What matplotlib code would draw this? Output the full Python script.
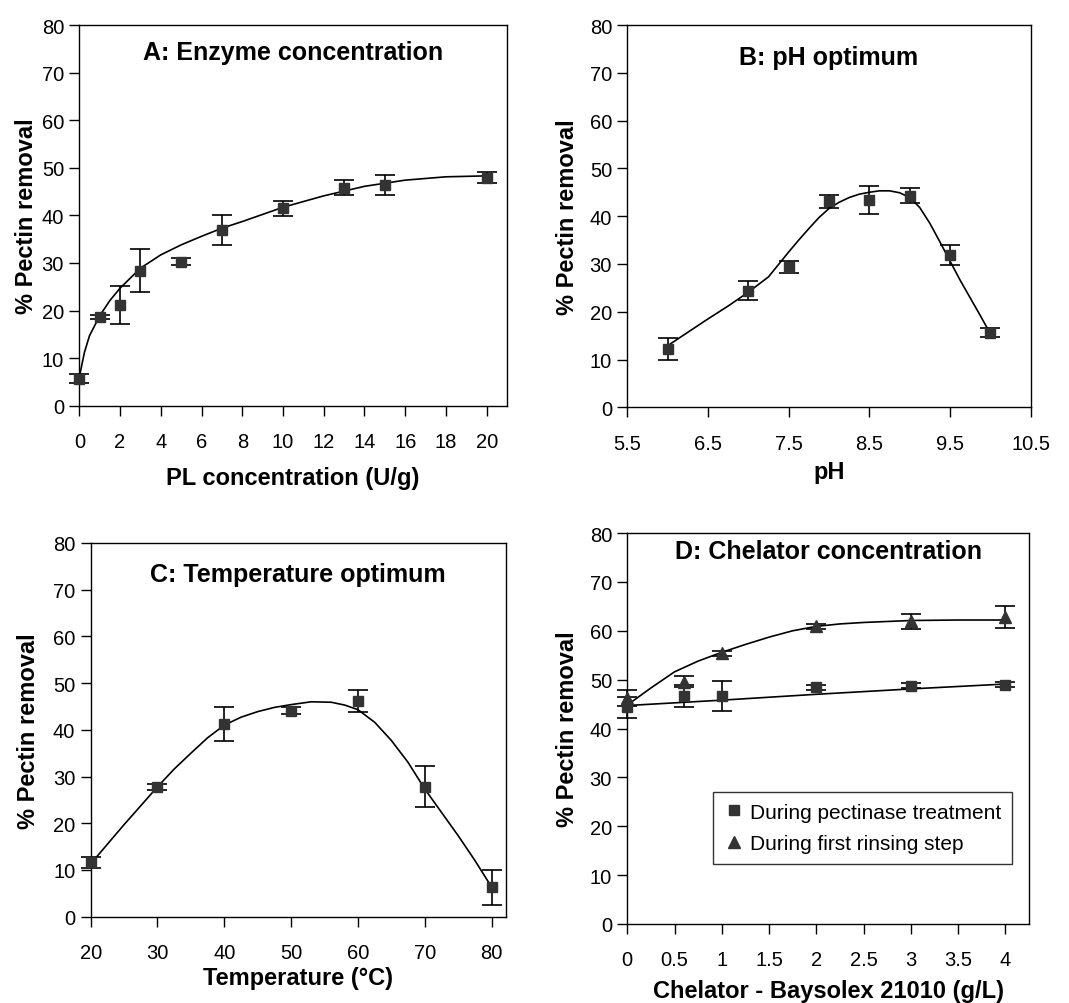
import matplotlib
matplotlib.use("Agg")
import matplotlib.pyplot as plt
from matplotlib.lines import Line2D

plt.rcParams["font.family"] = ["Liberation Sans", "DejaVu Sans"]

# ------------------------------------------------------------------
# Data
# ------------------------------------------------------------------

# A: enzyme concentration
a_x = [0, 1, 2, 3, 5, 7, 10, 13, 15, 20]
a_y = [5.7, 18.6, 21.2, 28.4, 30.3, 36.9, 41.5, 45.8, 46.4, 47.9]
a_err = [1.0, 0.4, 4.0, 4.6, 0.8, 3.2, 1.6, 1.6, 2.1, 1.2]
a_fit_x = [0, 0.25, 0.5, 1, 1.5, 2, 3, 4, 5, 6, 7, 8, 10, 12, 14, 16, 18, 20]
a_fit_y = [6.0, 11.2, 14.7, 18.9, 22.1, 24.7, 28.9, 31.7, 33.8, 35.6, 37.3,
           38.7, 41.7, 44.1, 46.1, 47.4, 48.1, 48.3]

# B: pH optimum
b_x = [6, 7, 7.5, 8, 8.5, 9, 9.5, 10]
b_y = [12.2, 24.4, 29.4, 43.1, 43.4, 44.3, 31.9, 15.6]
b_err = [2.3, 2.0, 1.2, 1.4, 3.0, 1.5, 2.1, 0.9]
b_fit_x = [6, 6.25, 6.5, 6.75, 7, 7.25, 7.375, 7.5, 7.625, 7.75, 7.875, 8,
           8.125, 8.25, 8.375, 8.5, 8.625, 8.75, 8.875, 9, 9.125, 9.25,
           9.375, 9.5, 9.625, 9.75, 9.875, 10]
b_fit_y = [12.9, 15.7, 18.5, 21.2, 24.1, 27.3, 29.9, 32.5, 35.0, 37.4, 39.7,
           41.6, 42.9, 43.9, 44.6, 45.0, 45.3, 45.3, 44.9, 43.9, 41.8, 38.5,
           34.6, 30.6, 26.6, 22.9, 19.2, 15.4]

# C: temperature optimum
c_x = [20, 30, 40, 50, 60, 70, 80]
c_y = [11.6, 27.8, 41.2, 44.1, 46.2, 27.8, 6.3]
c_err = [1.1, 0.6, 3.6, 0.8, 2.3, 4.4, 3.7]
c_fit_x = [20, 25, 30, 32.5, 35, 37.5, 40, 42.5, 45, 47.5, 50, 53, 56, 58,
           60, 62.5, 65, 67.5, 70, 72.5, 75, 77.5, 80]
c_fit_y = [11.3, 19.7, 27.8, 31.6, 35.0, 38.3, 41.0, 42.7, 43.9, 44.8, 45.4,
           46.0, 45.9, 45.3, 44.3, 41.6, 37.7, 33.0, 27.3, 22.3, 17.3, 12.0, 6.3]

# D: chelator concentration
d_x = [0, 0.6, 1, 2, 3, 4]
d_sq_y = [44.3, 46.7, 46.7, 48.4, 48.8, 49.0]
d_sq_err = [2.2, 2.2, 3.1, 0.5, 0.5, 0.6]
d_tri_y = [46.2, 49.6, 55.4, 60.9, 61.9, 62.8]
d_tri_err = [1.6, 1.1, 0.5, 0.5, 1.6, 2.2]
d_sq_fit_x = [0, 1, 2, 3, 4]
d_sq_fit_y = [44.7, 45.8, 47.0, 48.1, 49.1]
d_tri_fit_x = [0, 0.25, 0.5, 0.75, 1, 1.25, 1.5, 1.75, 2, 2.25, 2.5, 3, 3.5, 4]
d_tri_fit_y = [44.8, 48.3, 51.6, 53.8, 55.6, 57.2, 58.7, 60.0, 60.9, 61.4,
               61.7, 62.1, 62.2, 62.2]

MARK = "#333333"


def setup_axes(ax, xlim, xticks, xticklabels, xlabel, title, title_y,
               xlabel_pad, ylabel_pad):
    ax.set_xlim(*xlim)
    ax.set_ylim(0, 80)
    ax.set_xticks(xticks)
    ax.set_xticklabels(xticklabels)
    ax.set_yticks(range(0, 81, 10))
    ax.tick_params(direction="out", length=7, width=1, labelsize=14.5, pad=4)
    ax.tick_params(axis="x", pad=12)
    for s in ax.spines.values():
        s.set_linewidth(1.0)
        s.set_color("black")
    ax.set_ylabel("% Pectin removal", fontsize=17, fontweight="bold", labelpad=ylabel_pad)
    ax.set_xlabel(xlabel, fontsize=17, fontweight="bold", labelpad=xlabel_pad)
    ax.text(0.5, title_y, title, transform=ax.transAxes, ha="center", va="center",
            fontsize=18, fontweight="bold")


def draw_series(ax, x, y, err, fit_x, fit_y, marker, ms):
    ax.plot(fit_x, fit_y, color="black", lw=1.2, zorder=2)
    ax.errorbar(x, y, yerr=err, fmt="none", ecolor="black", elinewidth=1.2,
                capsize=7, capthick=1.2, zorder=3, clip_on=False)
    ax.plot(x, y, linestyle="none", marker=marker, ms=ms, color=MARK,
            markeredgecolor=MARK, zorder=4, clip_on=False)


fig = plt.figure(figsize=(10.69, 10.04), dpi=100)

ax_a = fig.add_axes([0.0742, 0.5949, 0.4001, 0.3792])
ax_b = fig.add_axes([0.5868, 0.5933, 0.3774, 0.3808])
ax_c = fig.add_axes([0.0848, 0.0860, 0.3883, 0.3722])
ax_d = fig.add_axes([0.5868, 0.0787, 0.3758, 0.3894])

# A
draw_series(ax_a, a_x, a_y, a_err, a_fit_x, a_fit_y, "s", 7)
setup_axes(ax_a, (0, 21), range(0, 21, 2), [str(v) for v in range(0, 21, 2)],
           "PL concentration (U/g)", "A: Enzyme concentration", 0.929, 11, 3)

# B
draw_series(ax_b, b_x, b_y, b_err, b_fit_x, b_fit_y, "s", 7)
b_ticks = [5.5, 6.5, 7.5, 8.5, 9.5, 10.5]
setup_axes(ax_b, (5.5, 10.5), b_ticks, [str(v) for v in b_ticks],
           "pH", "B: pH optimum", 0.916, 5, 8)

# C
draw_series(ax_c, c_x, c_y, c_err, c_fit_x, c_fit_y, "s", 7)
setup_axes(ax_c, (20, 82.1), range(20, 81, 10), [str(v) for v in range(20, 81, 10)],
           "Temperature (°C)", "C: Temperature optimum", 0.917, 3, 9)

# D
draw_series(ax_d, d_x, d_sq_y, d_sq_err, d_sq_fit_x, d_sq_fit_y, "s", 7)
draw_series(ax_d, d_x, d_tri_y, d_tri_err, d_tri_fit_x, d_tri_fit_y, "^", 8)
d_ticks = [0, 0.5, 1, 1.5, 2, 2.5, 3, 3.5, 4]
setup_axes(ax_d, (0, 4.25), d_ticks, ["0", "0.5", "1", "1.5", "2", "2.5", "3", "3.5", "4"],
           "Chelator - Baysolex 21010 (g/L)", "D: Chelator concentration", 0.955, 7, 8)

handles = [
    Line2D([], [], linestyle="none", marker="s", ms=7, color=MARK),
    Line2D([], [], linestyle="none", marker="^", ms=8, color=MARK),
]
leg = ax_d.legend(handles, ["During pectinase treatment", "During first rinsing step"],
                  loc="upper right", bbox_to_anchor=(0.958, 0.337), fontsize=15,
                  frameon=True, fancybox=False, handlelength=1.0, handletextpad=0.3,
                  borderpad=0.5, labelspacing=0.6, borderaxespad=0)
leg.get_frame().set_edgecolor("black")
leg.get_frame().set_linewidth(1.0)

fig.savefig("out.png", dpi=100)
